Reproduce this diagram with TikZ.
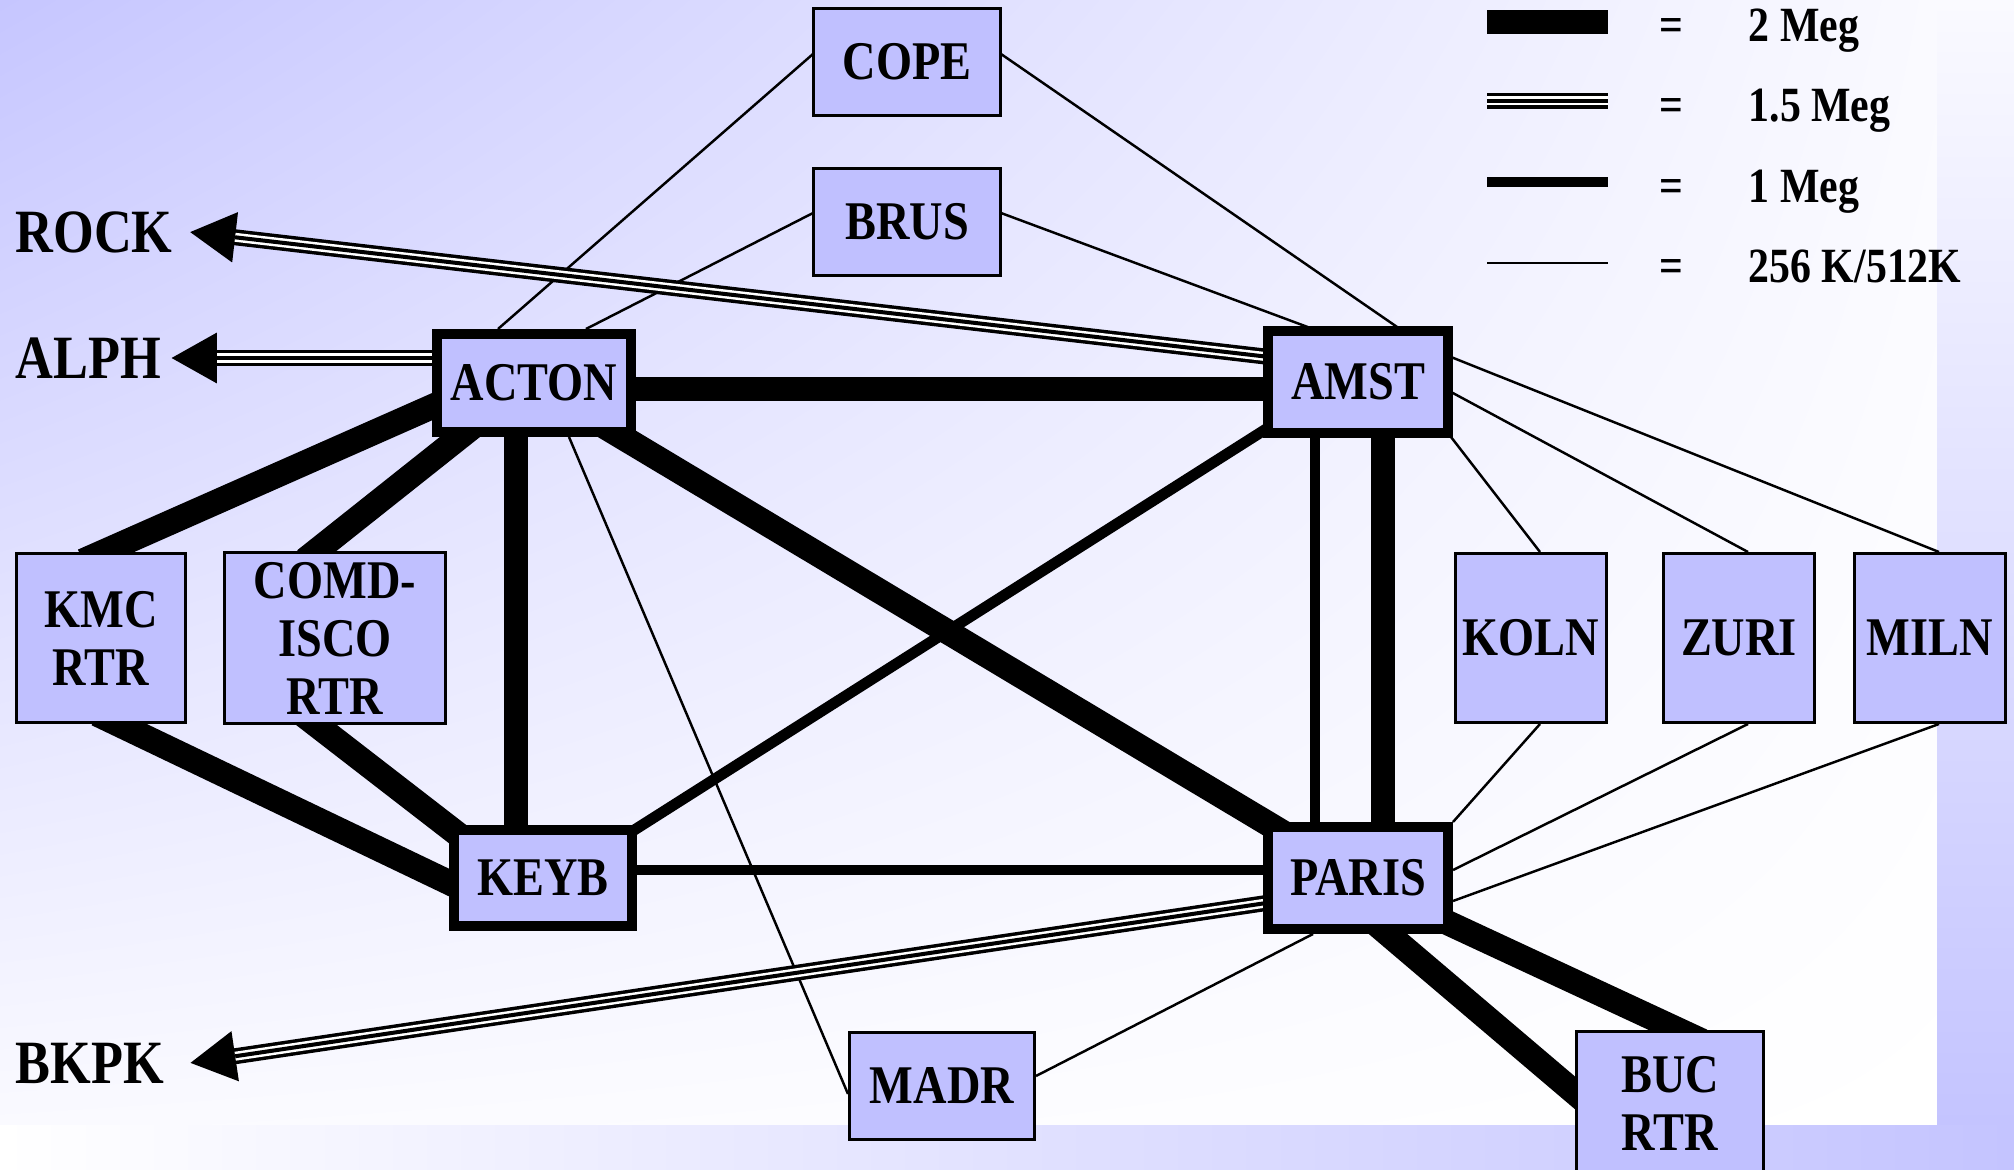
\documentclass[tikz,border=0pt]{standalone}
\usepackage{fontspec}
\newfontfamily\lblfont{Liberation Serif}[FakeStretch=0.85]
\usetikzlibrary{calc,arrows.meta,shadings}

\definecolor{boxfill}{RGB}{192,192,255}
\definecolor{bgtl}{RGB}{198,198,255}
\definecolor{bgmid}{RGB}{250,250,255}
\definecolor{band}{RGB}{196,196,255}

\pgfdeclarelayer{bg}
\pgfdeclarelayer{links}
\pgfsetlayers{bg,links,main}

\tikzset{
  site/.style={draw=black, line width=0.85pt, fill=boxfill, inner sep=0pt, align=center,
    font=\lblfont\bfseries\fontsize{15.5}{16.5}\selectfont},
  hub/.style={site, line width=2.85pt},
  ext/.style={inner sep=0pt, anchor=west,
    font=\lblfont\bfseries\fontsize{17.5}{20}\selectfont},
  legtext/.style={inner sep=0pt, font=\lblfont\bfseries\fontsize{14}{16}\selectfont},
  twomeg/.style={line width=7.1pt},
  onemeg/.style={line width=3.1pt},
  slow/.style={line width=0.7pt},
  tline/.style={line width=4.55pt,
    postaction={draw=white, line width=2.56pt, arrows=-, shorten >=#1},
    postaction={draw=black, line width=1.14pt, arrows=-, shorten >=#1}},
  tline/.default=0pt,
  bigtip/.style={-{Triangle[length=13.1pt,width=13.4pt]}},
}

\begin{document}
\begin{tikzpicture}[x=0.01cm, y=-0.01cm]
\useasboundingbox (0,0) rectangle (2014,1170);
\clip (0,0) rectangle (2014,1170);

% backdrop
\begin{pgfonlayer}{bg}
  \shade[upper left=bgtl, upper right=bgmid, lower left=bgmid, lower right=white]
    (0,0) rectangle (1937,1125);
  \shade[top color=bgmid, bottom color=band] (1937,0) rectangle (2014,1125);
  \shade[left color=white, right color=band] (0,1125) rectangle (2014,1170);
\end{pgfonlayer}

% sites
\node[hub, minimum width=1.93cm, minimum height=0.98cm] (acton) at (534,383) {ACTON};
\node[hub, minimum width=1.80cm, minimum height=1.01cm] (amst)  at (1358,382) {AMST};
\node[hub, minimum width=1.77cm, minimum height=0.95cm] (keyb)  at (543,878) {KEYB};
\node[hub, minimum width=1.80cm, minimum height=1.01cm] (paris) at (1358,878) {PARIS};
\node[site, minimum width=1.86cm, minimum height=1.07cm] (cope) at (907,62) {COPE};
\node[site, minimum width=1.86cm, minimum height=1.07cm] (brus) at (907,222) {BRUS};
\node[site, minimum width=1.68cm, minimum height=1.69cm] (kmc)  at (101,638) {KMC\\RTR};
\node[site, minimum width=2.21cm, minimum height=1.71cm] (comd) at (335,638) {COMD-\\ISCO\\RTR};
\node[site, minimum width=1.51cm, minimum height=1.69cm] (koln) at (1531,638) {KOLN};
\node[site, minimum width=1.51cm, minimum height=1.69cm] (zuri) at (1739,638) {ZURI};
\node[site, minimum width=1.50cm, minimum height=1.69cm] (miln) at (1930,638) {MILN};
\node[site, minimum width=1.84cm, minimum height=1.06cm] (madr) at (942,1086) {MADR};
\node[site, minimum width=1.87cm, minimum height=1.42cm] (buc)  at (1670,1103) {BUC\\RTR};

% external sites
\node[ext] (rock) at (15,232) {ROCK};
\node[ext] (alph) at (15,358) {ALPH};
\node[ext] (bkpk) at (15,1063) {BKPK};

% links
\begin{pgfonlayer}{links}
  % 256K/512K
  \draw[slow] ($(cope)+(-94,-8)$) -- ($(acton)+(-36,-54)$);
  \draw[slow] ($(cope)+(94,-8)$)  -- ($(amst)+(42,-53)$);
  \draw[slow] ($(brus)+(-94,-9)$) -- ($(acton)+(52,-54)$);
  \draw[slow] ($(brus)+(94,-9)$)  -- ($(amst)+(-45,-53)$);
  \draw[slow] ($(acton)+(35,54)$) -- ($(madr)+(-94,8)$);
  \draw[slow] ($(amst)+(93,55)$)  -- ($(koln)+(9,-86)$);
  \draw[slow] ($(amst)+(93,10)$)  -- ($(zuri)+(9,-86)$);
  \draw[slow] ($(amst)+(93,-25)$) -- ($(miln)+(9,-86)$);
  \draw[slow] ($(paris)+(95,-56)$) -- ($(koln)+(9,86)$);
  \draw[slow] ($(paris)+(95,-8)$)  -- ($(zuri)+(9,86)$);
  \draw[slow] ($(paris)+(95,23)$)  -- ($(miln)+(9,86)$);
  \draw[slow] ($(paris)+(-45,56)$) -- ($(madr)+(94,-10)$);
  % 2 Meg
  \draw[twomeg] ($(acton)+(0,6)$)   -- ($(amst)+(0,7)$);
  \draw[twomeg] ($(acton)+(-18,0)$) -- ($(keyb)+(-27,0)$);
  \draw[twomeg] ($(acton)+(58,36)$) -- ($(paris)+(-56,-34)$);
  \draw[twomeg] ($(acton)+(-71,10)$) -- ($(kmc)+(-18,-77)$);
  \draw[twomeg] ($(acton)+(-59,42)$) -- ($(comd)+(-30,-78)$);
  \draw[twomeg] ($(kmc)+(-4,76)$)   -- ($(keyb)+(-70,16)$);
  \draw[twomeg] ($(comd)+(-34,75)$) -- ($(keyb)+(-70,-32)$);
  \draw[twomeg] ($(amst)+(25,0)$)   -- ($(paris)+(25,0)$);
  \draw[twomeg] ($(paris)+(10,39)$) -- ($(buc)+(-76,6)$);
  \draw[twomeg] ($(paris)+(73,37)$) -- ($(buc)+(32,-62)$);
  % 1 Meg
  \draw[onemeg] ($(amst)+(-73,35)$) -- ($(keyb)+(74,-37)$);
  \draw[onemeg] ($(amst)+(-43,0)$)  -- ($(paris)+(-43,0)$);
  \draw[onemeg] ($(keyb)+(0,-8)$)   -- ($(paris)+(0,-8)$);
  % 1.5 Meg to external sites
  \draw[tline=13.1pt, bigtip] ($(amst)+(-80,-24)$) -- ($(rock.east)+(16,0)$);
  \draw[tline=13.1pt, bigtip] ($(acton)+(-90,-25)$) -- ($(alph.east)+(9,0)$);
  \draw[tline=13.1pt, bigtip] ($(paris)+(-85,24)$)  -- ($(bkpk.east)+(25,0)$);
\end{pgfonlayer}

% legend
\coordinate (k1a) at (1487,22);  \coordinate (k1b) at (1608,22);
\coordinate (k2a) at (1487,101); \coordinate (k2b) at (1608,101);
\coordinate (k3a) at (1487,182); \coordinate (k3b) at (1608,182);
\coordinate (k4a) at (1487,263); \coordinate (k4b) at (1608,263);
\draw[twomeg] (k1a) -- (k1b);
\draw[tline]  (k2a) -- (k2b);
\draw[onemeg] (k3a) -- (k3b);
\draw[slow]   (k4a) -- (k4b);
\node[legtext, anchor=base] (q1) at (1671,42)  {=};
\node[legtext, anchor=base] (q2) at (1671,122) {=};
\node[legtext, anchor=base] (q3) at (1671,203) {=};
\node[legtext, anchor=base] (q4) at (1671,283) {=};
\node[legtext, anchor=base west] (t1) at (1748,42)  {2 Meg};
\node[legtext, anchor=base west] (t2) at (1748,122) {1.5 Meg};
\node[legtext, anchor=base west] (t3) at (1748,203) {1 Meg};
\node[legtext, anchor=base west] (t4) at (1748,283) {256 K/512K};
\end{tikzpicture}
\end{document}
